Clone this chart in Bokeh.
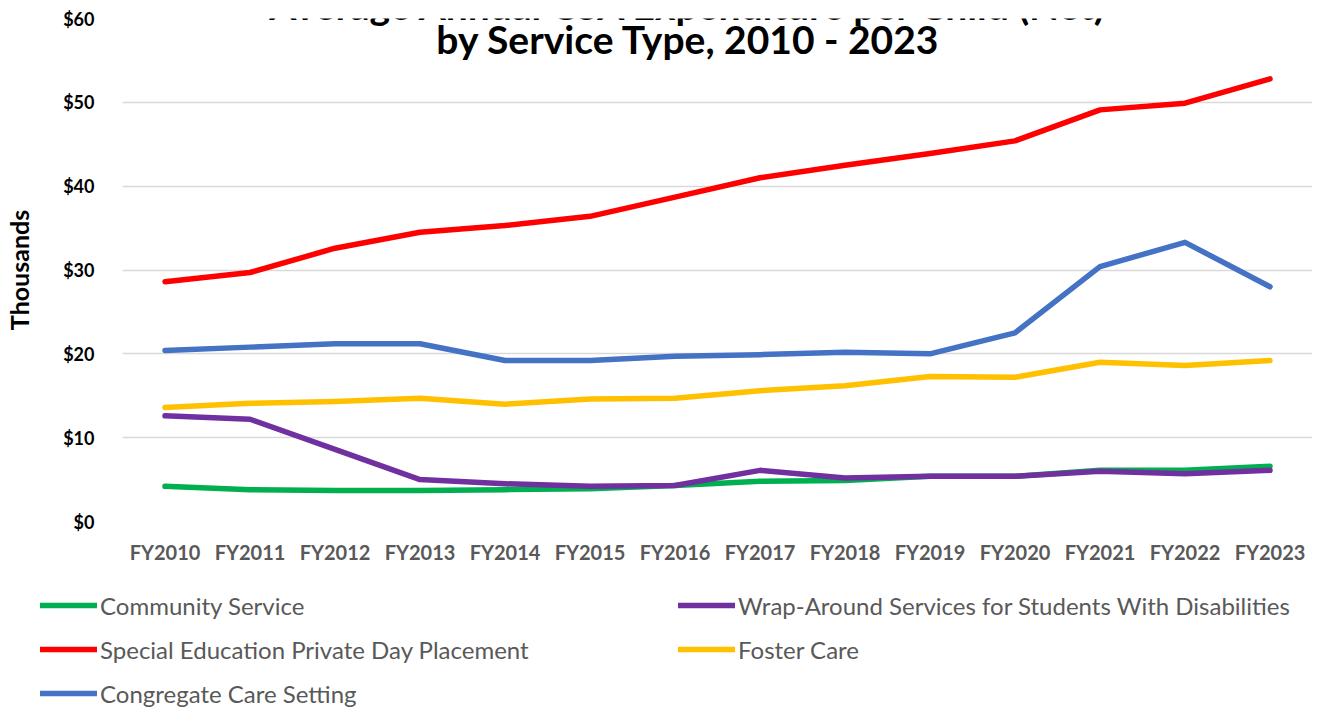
from bokeh.plotting import figure
from bokeh.models import FactorRange, Legend, LegendItem, Label, NumeralTickFormatter, FixedTicker
from bokeh.layouts import column
from bokeh.embed import file_html
from bokeh.resources import INLINE

years = ["FY2010", "FY2011", "FY2012", "FY2013", "FY2014", "FY2015", "FY2016",
         "FY2017", "FY2018", "FY2019", "FY2020", "FY2021", "FY2022", "FY2023"]

community_service = [4.2, 3.8, 3.7, 3.7, 3.8, 3.9, 4.3, 4.8, 4.9, 5.4, 5.4, 6.1, 6.1, 6.6]
wrap_around = [12.6, 12.2, 8.6, 5.0, 4.5, 4.2, 4.3, 6.1, 5.2, 5.4, 5.4, 6.0, 5.7, 6.1]
special_ed = [28.6, 29.7, 32.6, 34.5, 35.3, 36.4, 38.7, 41.0, 42.5, 43.9, 45.4, 49.1, 49.9, 52.8]
foster_care = [13.6, 14.1, 14.3, 14.7, 14.0, 14.6, 14.7, 15.6, 16.2, 17.3, 17.2, 19.0, 18.6, 19.2]
congregate = [20.4, 20.8, 21.2, 21.2, 19.2, 19.2, 19.7, 19.9, 20.2, 20.0, 22.5, 30.4, 33.3, 28.0]

series = [
    ("Community Service", community_service, "#00B050"),
    ("Wrap-Around Services for Students With Disabilities", wrap_around, "#7030A0"),
    ("Special Education Private Day Placement", special_ed, "#FF0000"),
    ("Foster Care", foster_care, "#FFC000"),
    ("Congregate Care Setting", congregate, "#4472C4"),
]

y_ticks = [0, 10, 20, 30, 40, 50, 60]

FONT = "Lato"
LINE_W = 5.5

# ---------- main chart ----------
p = figure(width=1327, height=575, x_range=FactorRange(*years, range_padding=0),
           y_range=(0, 60), output_backend="svg", toolbar_location=None,
           min_border_left=122, min_border_right=15, min_border_top=18, min_border_bottom=54)
p.outline_line_color = None

for name, vals, col in series:
    p.line(years, vals, line_color=col, line_width=LINE_W, line_join="round", line_cap="round")

p.xgrid.grid_line_color = None
p.ygrid.grid_line_color = "#D9D9D9"
p.ygrid.grid_line_width = 1.5
p.yaxis.ticker = FixedTicker(ticks=y_ticks)
p.yaxis.formatter = NumeralTickFormatter(format="$0")
p.yaxis.axis_line_color = None
p.yaxis.major_tick_line_color = None
p.yaxis.minor_tick_line_color = None
p.yaxis.major_label_text_font = FONT
p.yaxis.major_label_text_font_style = "bold"
p.yaxis.major_label_text_font_size = "18px"
p.yaxis.major_label_text_color = "black"
p.yaxis.major_label_standoff = 22
p.yaxis.axis_label = "Thousands"
p.yaxis.axis_label_text_font = FONT
p.yaxis.axis_label_text_font_style = "bold"
p.yaxis.axis_label_text_font_size = "25px"
p.yaxis.axis_label_text_color = "black"
p.yaxis.axis_label_standoff = 26

p.xaxis.axis_line_color = None
p.xaxis.major_tick_line_color = None
p.xaxis.minor_tick_line_color = None
p.xaxis.major_label_text_font = FONT
p.xaxis.major_label_text_font_style = "bold"
p.xaxis.major_label_text_font_size = "20px"
p.xaxis.major_label_text_color = "#595959"
p.xaxis.major_label_standoff = 12

# Title (the first line is cropped at the top edge in the reference)
p.add_layout(Label(x=566, y=517, x_units="screen", y_units="screen",
                   text="Average Annual CSA Expenditure per Child (Net)",
                   text_align="center", text_baseline="alphabetic",
                   text_font=FONT, text_font_style="bold", text_font_size="39px",
                   text_color="black"))
p.add_layout(Label(x=566, y=483, x_units="screen", y_units="screen",
                   text="by Service Type, 2010 - 2023",
                   text_align="center", text_baseline="middle",
                   text_font=FONT, text_font_style="bold", text_font_size="39px",
                   text_color="black"))

# ---------- legend strip (series drawn off-view, only their legend entries show) ----------
q = figure(width=1327, height=136, x_range=FactorRange(*years), y_range=(-1001, -1000),
           output_backend="svg", toolbar_location=None,
           min_border=0, min_border_left=0, min_border_right=0,
           min_border_top=0, min_border_bottom=0)
if hasattr(q, "frame_align"):
    q.frame_align = False
q.outline_line_color = None
q.axis.visible = False
q.grid.visible = False

items = []
for name, vals, col in series:
    r = q.line(years, vals, line_color=col, line_width=LINE_W, line_cap="round")
    items.append(LegendItem(label=name, renderers=[r]))

legend = Legend(items=items, orientation="horizontal", ncols=2, location=(40, 3),
                glyph_width=57, glyph_height=30, label_height=30,
                label_width=564, label_standoff=3, spacing=14,
                padding=0, margin=0, border_line_color=None,
                background_fill_alpha=0,
                label_text_font=FONT, label_text_font_size="24px",
                label_text_color="#595959")
q.add_layout(legend, "center")

open("out.html", "w").write(file_html(column(p, q, spacing=0), INLINE))
